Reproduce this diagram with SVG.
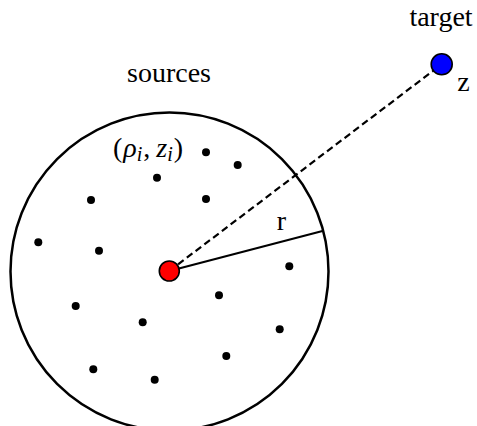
<svg xmlns="http://www.w3.org/2000/svg" width="477" height="426" viewBox="0 0 477 426">
<style>
text{font-family:'Liberation Serif','DejaVu Serif',serif;font-size:28px;fill:#000}
.it{font-style:italic}
.dot{fill:#000}
</style>
<rect width="477" height="426" fill="#fff"/>
<g id="region">
<circle cx="169.5" cy="271.5" r="159" fill="none" stroke="#000" stroke-width="2.5"/>
</g>
<g id="sources-dots">
<circle class="dot" cx="206" cy="152.3" r="4"/>
<circle class="dot" cx="237.7" cy="165" r="4"/>
<circle class="dot" cx="157" cy="177.7" r="4"/>
<circle class="dot" cx="91" cy="200" r="4"/>
<circle class="dot" cx="206" cy="199" r="4"/>
<circle class="dot" cx="38.3" cy="242.3" r="4"/>
<circle class="dot" cx="99" cy="250.7" r="4"/>
<circle class="dot" cx="289.3" cy="266.3" r="4"/>
<circle class="dot" cx="219" cy="295.3" r="4"/>
<circle class="dot" cx="75.7" cy="306" r="4"/>
<circle class="dot" cx="142.7" cy="322.3" r="4"/>
<circle class="dot" cx="279.7" cy="329.3" r="4"/>
<circle class="dot" cx="226.3" cy="356" r="4"/>
<circle class="dot" cx="93.3" cy="369.3" r="4"/>
<circle class="dot" cx="154.7" cy="379.7" r="4"/>
</g>
<g id="connectors" stroke="#000" fill="none">
<line x1="169.3" y1="271" x2="441.7" y2="64.3" stroke-width="2.2" stroke-dasharray="7,4"/>
<line x1="169.3" y1="271" x2="322.5" y2="231" stroke-width="2.2"/>
</g>
<g id="center">
<circle cx="169.3" cy="271" r="10" fill="#f00" stroke="#000" stroke-width="1.6"/>
</g>
<g id="target">
<circle cx="441.7" cy="64.3" r="10.5" fill="#00f" stroke="#000" stroke-width="1.6"/>
</g>
<g id="labels">
<text x="441" y="26" text-anchor="middle">target</text>
<text x="463.5" y="91" text-anchor="middle">z</text>
<text x="169" y="81.7" text-anchor="middle">sources</text>
<text x="281.5" y="230" text-anchor="middle">r</text>
<text x="113" y="157">(<tspan class="it" dx="1">ρ</tspan><tspan class="it" font-size="20" dy="4">i</tspan><tspan dy="-4" dx="1">,</tspan><tspan class="it" dx="6">z</tspan><tspan class="it" font-size="20" dy="4">i</tspan><tspan dy="-4" dx="1">)</tspan></text>
</g>
</svg>
